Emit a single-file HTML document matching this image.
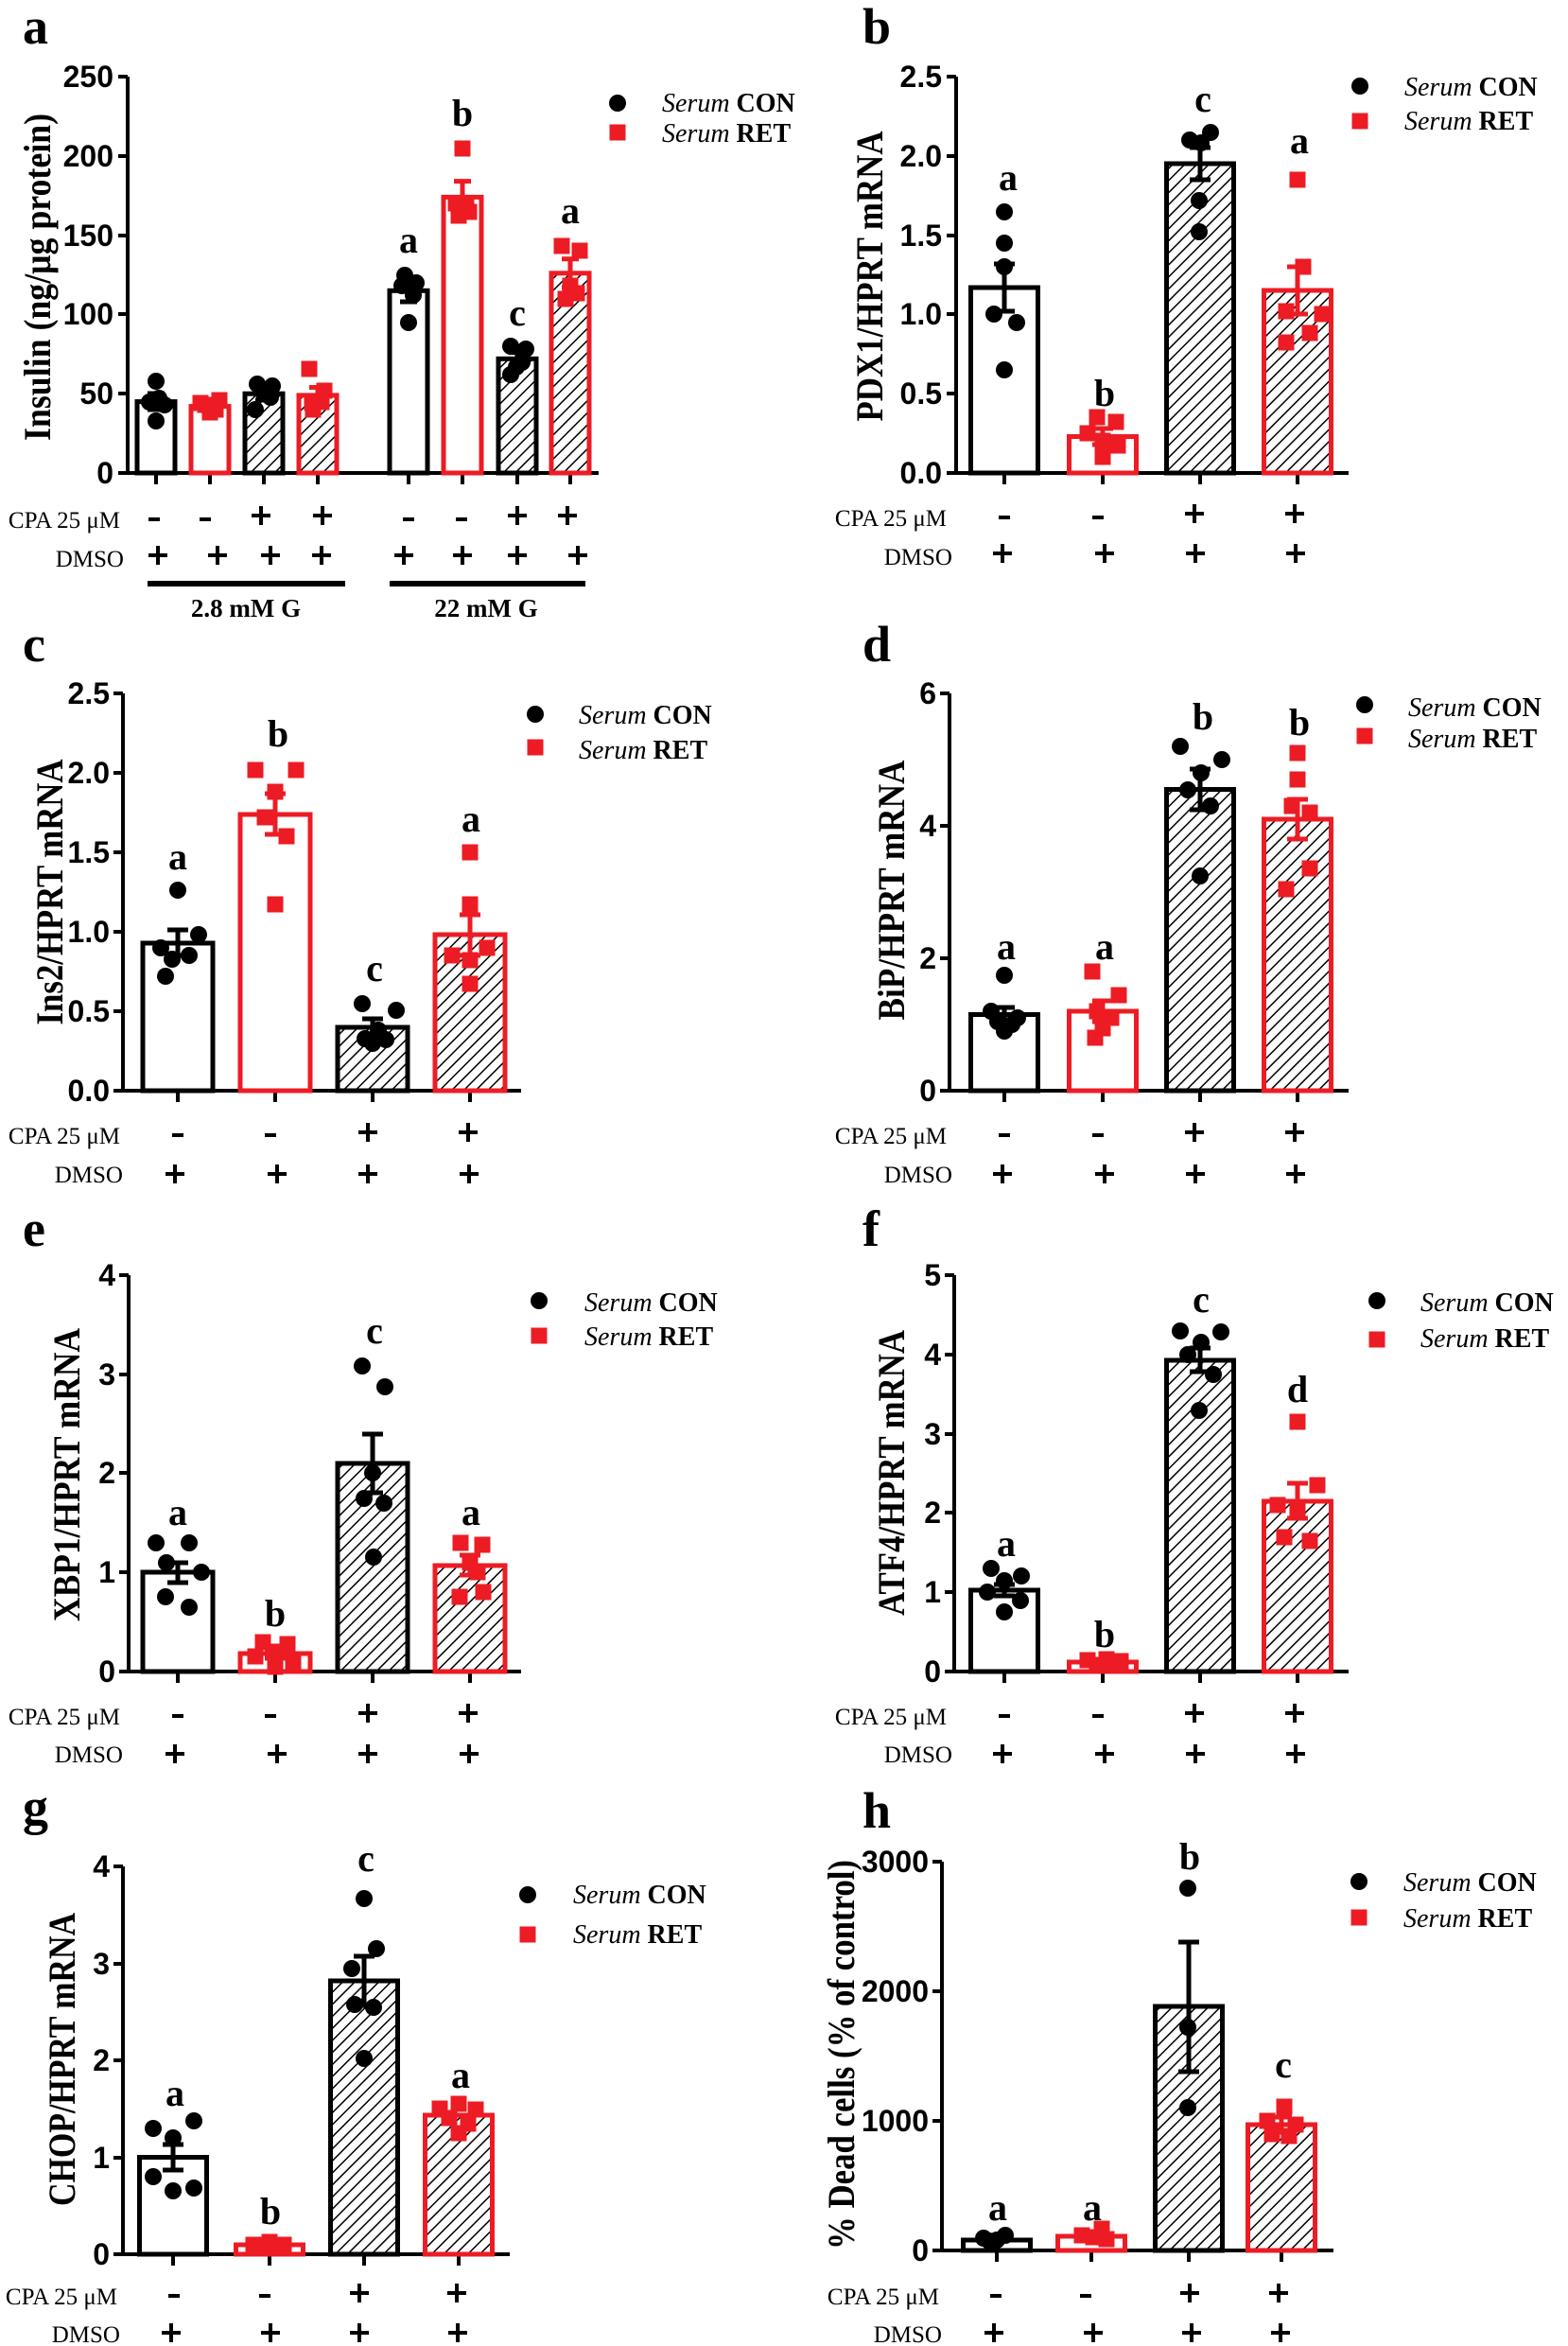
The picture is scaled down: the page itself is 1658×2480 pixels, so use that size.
<!DOCTYPE html>
<html><head><meta charset="utf-8"><style>
html,body{margin:0;padding:0;background:#fff}
svg{display:block}
.tk{font-family:"Liberation Sans Narrow","Liberation Sans",sans-serif;font-weight:bold;font-size:32px;text-anchor:end}
.yt{font-family:"Liberation Serif",serif;font-weight:bold;font-size:40px;text-anchor:middle}
.pl{font-family:"Liberation Serif",serif;font-weight:bold;font-size:54px}
.lt{font-family:"Liberation Serif",serif;font-weight:bold;font-size:40px;text-anchor:middle}
.lg{font-family:"Liberation Serif",serif;font-size:28px}
.rl{font-family:"Liberation Serif",serif;font-size:25px;text-anchor:end}
.ax{stroke:#000;stroke-width:4;fill:none}
.bk{stroke:#000;stroke-width:5}
.rd{stroke:#ed1c24;stroke-width:5}
.sg{stroke:#000;stroke-width:4}
</style></head><body>
<svg width="1658" height="2480" viewBox="0 0 1658 2480" xmlns="http://www.w3.org/2000/svg">
<defs>
<pattern id="h" patternUnits="userSpaceOnUse" width="9" height="9" patternTransform="rotate(45)">
<rect width="9" height="9" fill="#fff"/><line x1="0" y1="0" x2="0" y2="9" stroke="#000" stroke-width="3"/>
</pattern>
<circle id="c" r="9" fill="#000"/>
<rect id="s" x="-8.5" y="-8.5" width="17" height="17" fill="#ed1c24"/>
<path id="p" d="M-10 0H10M0 -10V10" class="sg"/>
<path id="m" d="M-6 0H6" class="sg"/>
</defs>

<!-- ===== Panel a ===== -->
<text class="pl" x="24" y="46">a</text>
<path class="ax" d="M135 81V500H633 M125 81H135 M125 165H135 M125 249H135 M125 332H135 M125 416H135 M125 500H135"/>
<path class="ax" d="M165 500V512 M222 500V512 M279 500V512 M336 500V512 M432 500V512 M489 500V512 M547 500V512 M603 500V512"/>
<text class="tk" x="120" y="92">250</text><text class="tk" x="120" y="176">200</text><text class="tk" x="120" y="260">150</text><text class="tk" x="120" y="343">100</text><text class="tk" x="120" y="427">50</text><text class="tk" x="120" y="511">0</text>
<text class="yt" transform="translate(40,293) rotate(-90)" y="13" textLength="346" lengthAdjust="spacingAndGlyphs">Insulin (ng/μg protein)</text>
<rect class="bk" x="145" y="424.6" width="40" height="75.4" fill="#fff"/>
<rect class="rd" x="202" y="429.6" width="40" height="70.4" fill="#fff"/>
<rect class="bk" x="259" y="416.2" width="40" height="83.8" fill="url(#h)"/>
<rect class="rd" x="316" y="417.9" width="40" height="82.1" fill="url(#h)"/>
<rect class="bk" x="412" y="307.3" width="40" height="192.7" fill="#fff"/>
<rect class="rd" x="469" y="208.4" width="40" height="291.6" fill="#fff"/>
<rect class="bk" x="527" y="379.3" width="40" height="120.7" fill="url(#h)"/>
<rect class="rd" x="583" y="288.8" width="40" height="211.2" fill="url(#h)"/>
<path class="bk" d="M165 416V433M156 416H174M156 433H174 M279 409.5V423M270 409.5H288M270 423H288 M432 295.6V319M423 295.6H441M423 319H441 M547 372.6V386M538 372.6H556M538 386H556"/>
<path class="rd" d="M222 424.6V434.6M213 424.6H231M213 434.6H231 M336 409.5V426.3M327 409.5H345M327 426.3H345 M489 191.6V225M480 191.6H498M480 225H498 M603 273.7V304M594 273.7H612M594 304H612"/>
<use href="#c" x="165" y="403"/><use href="#c" x="165" y="445"/><use href="#c" x="158" y="425"/><use href="#c" x="174" y="428"/><use href="#c" x="168" y="421"/>
<use href="#s" x="212" y="426"/><use href="#s" x="222" y="436"/><use href="#s" x="232" y="423"/><use href="#s" x="228" y="433"/><use href="#s" x="217" y="428"/>
<use href="#c" x="272" y="406"/><use href="#c" x="288" y="408"/><use href="#c" x="270" y="433"/><use href="#c" x="279" y="416"/><use href="#c" x="286" y="420"/>
<use href="#s" x="327" y="390"/><use href="#s" x="343" y="413"/><use href="#s" x="331" y="433"/><use href="#s" x="340" y="425"/><use href="#s" x="330" y="426"/>
<use href="#c" x="428" y="291"/><use href="#c" x="440" y="299"/><use href="#c" x="432" y="341"/><use href="#c" x="425" y="302"/><use href="#c" x="437" y="312"/>
<use href="#s" x="489" y="157"/><use href="#s" x="482" y="215"/><use href="#s" x="496" y="224"/><use href="#s" x="493" y="218"/><use href="#s" x="485" y="228"/>
<use href="#c" x="540" y="366"/><use href="#c" x="556" y="369"/><use href="#c" x="540" y="396"/><use href="#c" x="552" y="383"/><use href="#c" x="546" y="388"/>
<use href="#s" x="594" y="260"/><use href="#s" x="613" y="265"/><use href="#s" x="598" y="316"/><use href="#s" x="610" y="310"/><use href="#s" x="603" y="302"/>
<text class="lt" x="432" y="267">a</text><text class="lt" x="489" y="133">b</text><text class="lt" x="547" y="344">c</text><text class="lt" x="603" y="236">a</text>
<use href="#c" x="653" y="109"/><use href="#s" x="653" y="140"/>
<text class="lg" x="700" y="118"><tspan font-style="italic">Serum</tspan> <tspan font-weight="bold">CON</tspan></text>
<text class="lg" x="700" y="150"><tspan font-style="italic">Serum</tspan> <tspan font-weight="bold">RET</tspan></text>
<text class="rl" x="127" y="558">CPA 25 μM</text><text class="rl" x="131" y="599">DMSO</text>
<use href="#m" x="163" y="549"/><use href="#m" x="217" y="549"/><use href="#p" x="276" y="545"/><use href="#p" x="341" y="545"/><use href="#m" x="432" y="549"/><use href="#m" x="488" y="549"/><use href="#p" x="547" y="545"/><use href="#p" x="600" y="545"/>
<use href="#p" x="167" y="587"/><use href="#p" x="230" y="587"/><use href="#p" x="286" y="587"/><use href="#p" x="340" y="587"/><use href="#p" x="427" y="587"/><use href="#p" x="489" y="587"/><use href="#p" x="547" y="587"/><use href="#p" x="611" y="587"/>
<rect x="156" y="614" width="209" height="6" fill="#000"/><rect x="412" y="614" width="207" height="6" fill="#000"/>
<text class="lt" style="font-size:27px" x="260" y="652">2.8 mM G</text><text class="lt" style="font-size:27px" x="514" y="652">22 mM G</text>

<!-- ===== Panel b ===== -->
<text class="pl" x="912" y="46">b</text>
<path class="ax" d="M1011 81V500H1426 M1001 81H1011 M1001 165H1011 M1001 249H1011 M1001 332H1011 M1001 416H1011 M1001 500H1011 M1062 500V512 M1166 500V512 M1269 500V512 M1372 500V512"/>
<text class="tk" x="996" y="92">2.5</text><text class="tk" x="996" y="176">2.0</text><text class="tk" x="996" y="260">1.5</text><text class="tk" x="996" y="343">1.0</text><text class="tk" x="996" y="427">0.5</text><text class="tk" x="996" y="511">0.0</text>
<text class="yt" transform="translate(920,292) rotate(-90)" y="13" textLength="307" lengthAdjust="spacingAndGlyphs">PDX1/HPRT mRNA</text>
<rect class="bk" x="1026.5" y="304" width="71" height="196" fill="#fff"/>
<rect class="rd" x="1130.5" y="461.5" width="71" height="38.5" fill="#fff"/>
<rect class="bk" x="1233.5" y="173" width="71" height="327" fill="url(#h)"/>
<rect class="rd" x="1336.5" y="307" width="71" height="193" fill="url(#h)"/>
<path class="bk" d="M1062 279V329M1051 279H1073M1051 329H1073 M1269 156V190M1258 156H1280M1258 190H1280"/>
<path class="rd" d="M1166 453V470M1155 453H1177M1155 470H1177 M1372 282V332M1361 282H1383M1361 332H1383"/>
<use href="#c" x="1062" y="224"/><use href="#c" x="1062" y="257"/><use href="#c" x="1062" y="282"/><use href="#c" x="1051" y="332"/><use href="#c" x="1075" y="341"/><use href="#c" x="1062" y="391"/>
<use href="#s" x="1160" y="441"/><use href="#s" x="1180" y="446"/><use href="#s" x="1150" y="458"/><use href="#s" x="1166" y="466"/><use href="#s" x="1182" y="471"/><use href="#s" x="1166" y="483"/>
<use href="#c" x="1280" y="140"/><use href="#c" x="1258" y="148"/><use href="#c" x="1270" y="151"/><use href="#c" x="1268" y="212"/><use href="#c" x="1268" y="245"/>
<use href="#s" x="1372" y="190"/><use href="#s" x="1378" y="282"/><use href="#s" x="1360" y="329"/><use href="#s" x="1398" y="332"/><use href="#s" x="1385" y="352"/><use href="#s" x="1360" y="362"/>
<text class="lt" x="1066" y="201">a</text><text class="lt" x="1168" y="429">b</text><text class="lt" x="1272" y="118">c</text><text class="lt" x="1374" y="162">a</text>
<use href="#c" x="1438" y="91"/><use href="#s" x="1438" y="128"/>
<text class="lg" x="1485" y="101"><tspan font-style="italic">Serum</tspan> <tspan font-weight="bold">CON</tspan></text>
<text class="lg" x="1485" y="137"><tspan font-style="italic">Serum</tspan> <tspan font-weight="bold">RET</tspan></text>
<text class="rl" x="1001" y="556">CPA 25 μM</text><text class="rl" x="1007" y="597">DMSO</text>
<use href="#m" x="1062" y="547"/><use href="#m" x="1161" y="547"/><use href="#p" x="1263" y="543"/><use href="#p" x="1369" y="543"/>
<use href="#p" x="1060" y="585"/><use href="#p" x="1168" y="585"/><use href="#p" x="1264" y="585"/><use href="#p" x="1370" y="585"/>

<!-- ===== Panel c ===== -->
<text class="pl" x="24" y="699">c</text>
<path class="ax" d="M130 733V1153H551 M120 733H130 M120 817H130 M120 901H130 M120 985H130 M120 1069H130 M120 1153H130 M188 1153V1165 M291 1153V1165 M394 1153V1165 M497 1153V1165"/>
<text class="tk" x="116" y="744">2.5</text><text class="tk" x="116" y="828">2.0</text><text class="tk" x="116" y="912">1.5</text><text class="tk" x="116" y="996">1.0</text><text class="tk" x="116" y="1080">0.5</text><text class="tk" x="116" y="1164">0.0</text>
<text class="yt" transform="translate(53,943) rotate(-90)" y="13" textLength="281" lengthAdjust="spacingAndGlyphs">Ins2/HPRT mRNA</text>
<rect class="bk" x="151" y="997" width="74" height="156" fill="#fff"/>
<rect class="rd" x="254" y="861" width="74" height="292" fill="#fff"/>
<rect class="bk" x="357" y="1086" width="74" height="67" fill="url(#h)"/>
<rect class="rd" x="460" y="988" width="74" height="165" fill="url(#h)"/>
<path class="bk" d="M188 983V1010M177 983H199M177 1010H199 M394 1077V1094M383 1077H405M383 1094H405"/>
<path class="rd" d="M291 839V882M280 839H302M280 882H302 M497 967V1010M486 967H508M486 1010H508"/>
<use href="#c" x="188" y="941"/><use href="#c" x="210" y="988"/><use href="#c" x="170" y="1002"/><use href="#c" x="200" y="1010"/><use href="#c" x="182" y="1014"/><use href="#c" x="175" y="1032"/>
<use href="#s" x="270" y="814"/><use href="#s" x="313" y="814"/><use href="#s" x="291" y="837"/><use href="#s" x="280" y="864"/><use href="#s" x="303" y="884"/><use href="#s" x="291" y="956"/>
<use href="#c" x="383" y="1061"/><use href="#c" x="419" y="1068"/><use href="#c" x="400" y="1089"/><use href="#c" x="386" y="1098"/><use href="#c" x="408" y="1099"/><use href="#c" x="394" y="1103"/>
<use href="#s" x="497" y="901"/><use href="#s" x="497" y="956"/><use href="#s" x="515" y="1002"/><use href="#s" x="478" y="1010"/><use href="#s" x="497" y="1015"/><use href="#s" x="497" y="1040"/>
<text class="lt" x="188" y="919">a</text><text class="lt" x="294" y="789">b</text><text class="lt" x="396" y="1037">c</text><text class="lt" x="498" y="879">a</text>
<use href="#c" x="566" y="755"/><use href="#s" x="566" y="790"/>
<text class="lg" x="612" y="765"><tspan font-style="italic">Serum</tspan> <tspan font-weight="bold">CON</tspan></text>
<text class="lg" x="612" y="802"><tspan font-style="italic">Serum</tspan> <tspan font-weight="bold">RET</tspan></text>
<text class="rl" x="127" y="1209">CPA 25 μM</text><text class="rl" x="130" y="1250">DMSO</text>
<use href="#m" x="188" y="1200"/><use href="#m" x="286" y="1200"/><use href="#p" x="389" y="1197"/><use href="#p" x="495" y="1197"/>
<use href="#p" x="185" y="1241"/><use href="#p" x="293" y="1241"/><use href="#p" x="389" y="1241"/><use href="#p" x="496" y="1241"/>

<!-- ===== Panel d ===== -->
<text class="pl" x="912" y="699">d</text>
<path class="ax" d="M1004 733V1153H1426 M994 733H1004 M994 873H1004 M994 1013H1004 M994 1153H1004 M1062 1153V1165 M1166 1153V1165 M1269 1153V1165 M1372 1153V1165"/>
<text class="tk" x="990" y="744">6</text><text class="tk" x="990" y="884">4</text><text class="tk" x="990" y="1024">2</text><text class="tk" x="990" y="1164">0</text>
<text class="yt" transform="translate(943,941) rotate(-90)" y="13" textLength="275" lengthAdjust="spacingAndGlyphs">BiP/HPRT mRNA</text>
<rect class="bk" x="1026.5" y="1072.5" width="71" height="80.5" fill="#fff"/>
<rect class="rd" x="1130.5" y="1069" width="71" height="84" fill="#fff"/>
<rect class="bk" x="1233.5" y="834.5" width="71" height="318.5" fill="url(#h)"/>
<rect class="rd" x="1336.5" y="866" width="71" height="287" fill="url(#h)"/>
<path class="bk" d="M1062 1065V1080M1051 1065H1073M1051 1080H1073 M1269 813V856M1258 813H1280M1258 856H1280"/>
<path class="rd" d="M1166 1058V1080M1155 1058H1177M1155 1080H1177 M1372 845V887M1361 845H1383M1361 887H1383"/>
<use href="#c" x="1062" y="1031"/><use href="#c" x="1048" y="1069"/><use href="#c" x="1076" y="1076"/><use href="#c" x="1055" y="1080"/><use href="#c" x="1070" y="1083"/><use href="#c" x="1062" y="1090"/>
<use href="#s" x="1155" y="1027"/><use href="#s" x="1183" y="1052"/><use href="#s" x="1160" y="1069"/><use href="#s" x="1175" y="1076"/><use href="#s" x="1166" y="1087"/><use href="#s" x="1158" y="1097"/>
<use href="#c" x="1248" y="789"/><use href="#c" x="1292" y="803"/><use href="#c" x="1270" y="817"/><use href="#c" x="1256" y="835"/><use href="#c" x="1280" y="852"/><use href="#c" x="1269" y="926"/>
<use href="#s" x="1372" y="796"/><use href="#s" x="1372" y="824"/><use href="#s" x="1366" y="852"/><use href="#s" x="1385" y="859"/><use href="#s" x="1385" y="918"/><use href="#s" x="1360" y="940"/>
<text class="lt" x="1064" y="1014">a</text><text class="lt" x="1168" y="1014">a</text><text class="lt" x="1272" y="771">b</text><text class="lt" x="1374" y="777">b</text>
<use href="#c" x="1443" y="745"/><use href="#s" x="1443" y="778"/>
<text class="lg" x="1489" y="757"><tspan font-style="italic">Serum</tspan> <tspan font-weight="bold">CON</tspan></text>
<text class="lg" x="1489" y="790"><tspan font-style="italic">Serum</tspan> <tspan font-weight="bold">RET</tspan></text>
<text class="rl" x="1001" y="1209">CPA 25 μM</text><text class="rl" x="1007" y="1250">DMSO</text>
<use href="#m" x="1062" y="1200"/><use href="#m" x="1161" y="1200"/><use href="#p" x="1263" y="1197"/><use href="#p" x="1369" y="1197"/>
<use href="#p" x="1060" y="1241"/><use href="#p" x="1168" y="1241"/><use href="#p" x="1264" y="1241"/><use href="#p" x="1370" y="1241"/>

<!-- ===== Panel e ===== -->
<text class="pl" x="24" y="1317">e</text>
<path class="ax" d="M136 1348V1767H551 M126 1348H136 M126 1453H136 M126 1557H136 M126 1662H136 M126 1767H136 M188 1767V1779 M291 1767V1779 M394 1767V1779 M497 1767V1779"/>
<text class="tk" x="122" y="1359">4</text><text class="tk" x="122" y="1464">3</text><text class="tk" x="122" y="1568">2</text><text class="tk" x="122" y="1673">1</text><text class="tk" x="122" y="1778">0</text>
<text class="yt" transform="translate(71,1559) rotate(-90)" y="13" textLength="310" lengthAdjust="spacingAndGlyphs">XBP1/HPRT mRNA</text>
<rect class="bk" x="151" y="1662" width="74" height="105" fill="#fff"/>
<rect class="rd" x="254" y="1748" width="74" height="19" fill="#fff"/>
<rect class="bk" x="357" y="1547" width="74" height="220" fill="url(#h)"/>
<rect class="rd" x="460" y="1655" width="74" height="112" fill="url(#h)"/>
<path class="bk" d="M188 1652V1673M177 1652H199M177 1673H199 M394 1516V1578M383 1516H405M383 1578H405"/>
<path class="rd" d="M291 1743V1753M280 1743H302M280 1753H302 M497 1644V1665M486 1644H508M486 1665H508"/>
<use href="#c" x="165" y="1631"/><use href="#c" x="200" y="1631"/><use href="#c" x="176" y="1652"/><use href="#c" x="213" y="1662"/><use href="#c" x="175" y="1688"/><use href="#c" x="200" y="1699"/>
<use href="#s" x="278" y="1736"/><use href="#s" x="304" y="1738"/><use href="#s" x="291" y="1746"/><use href="#s" x="270" y="1751"/><use href="#s" x="310" y="1756"/><use href="#s" x="291" y="1762"/>
<use href="#c" x="383" y="1444"/><use href="#c" x="407" y="1466"/><use href="#c" x="394" y="1557"/><use href="#c" x="385" y="1584"/><use href="#c" x="406" y="1589"/><use href="#c" x="395" y="1646"/>
<use href="#s" x="487" y="1631"/><use href="#s" x="510" y="1633"/><use href="#s" x="497" y="1652"/><use href="#s" x="505" y="1662"/><use href="#s" x="511" y="1683"/><use href="#s" x="486" y="1688"/>
<text class="lt" x="188" y="1612">a</text><text class="lt" x="291" y="1719">b</text><text class="lt" x="396" y="1420">c</text><text class="lt" x="498" y="1612">a</text>
<use href="#c" x="570" y="1375"/><use href="#s" x="570" y="1412"/>
<text class="lg" x="618" y="1386"><tspan font-style="italic">Serum</tspan> <tspan font-weight="bold">CON</tspan></text>
<text class="lg" x="618" y="1422"><tspan font-style="italic">Serum</tspan> <tspan font-weight="bold">RET</tspan></text>
<text class="rl" x="127" y="1823">CPA 25 μM</text><text class="rl" x="130" y="1863">DMSO</text>
<use href="#m" x="188" y="1814"/><use href="#m" x="286" y="1814"/><use href="#p" x="389" y="1811"/><use href="#p" x="495" y="1811"/>
<use href="#p" x="185" y="1854"/><use href="#p" x="293" y="1854"/><use href="#p" x="389" y="1854"/><use href="#p" x="496" y="1854"/>

<!-- ===== Panel f ===== -->
<text class="pl" x="912" y="1317">f</text>
<path class="ax" d="M1009 1348V1767H1426 M999 1348H1009 M999 1432H1009 M999 1516H1009 M999 1599H1009 M999 1683H1009 M999 1767H1009 M1062 1767V1779 M1166 1767V1779 M1269 1767V1779 M1372 1767V1779"/>
<text class="tk" x="995" y="1359">5</text><text class="tk" x="995" y="1443">4</text><text class="tk" x="995" y="1527">3</text><text class="tk" x="995" y="1610">2</text><text class="tk" x="995" y="1694">1</text><text class="tk" x="995" y="1778">0</text>
<text class="yt" transform="translate(943,1557) rotate(-90)" y="13" textLength="302" lengthAdjust="spacingAndGlyphs">ATF4/HPRT mRNA</text>
<rect class="bk" x="1026.5" y="1681" width="71" height="86" fill="#fff"/>
<rect class="rd" x="1130.5" y="1757" width="71" height="10" fill="#fff"/>
<rect class="bk" x="1233.5" y="1438" width="71" height="329" fill="url(#h)"/>
<rect class="rd" x="1336.5" y="1587" width="71" height="180" fill="url(#h)"/>
<path class="bk" d="M1062 1675V1687M1051 1675H1073M1051 1687H1073 M1269 1425V1450M1258 1425H1280M1258 1450H1280"/>
<path class="rd" d="M1372 1568V1605M1361 1568H1383M1361 1605H1383"/>
<use href="#c" x="1048" y="1658"/><use href="#c" x="1080" y="1666"/><use href="#c" x="1062" y="1671"/><use href="#c" x="1044" y="1683"/><use href="#c" x="1079" y="1692"/><use href="#c" x="1062" y="1704"/>
<use href="#s" x="1150" y="1755"/><use href="#s" x="1170" y="1754"/><use href="#s" x="1185" y="1756"/><use href="#s" x="1160" y="1760"/><use href="#s" x="1176" y="1760"/>
<use href="#c" x="1248" y="1407"/><use href="#c" x="1291" y="1408"/><use href="#c" x="1270" y="1419"/><use href="#c" x="1256" y="1432"/><use href="#c" x="1283" y="1453"/><use href="#c" x="1268" y="1491"/>
<use href="#s" x="1372" y="1503"/><use href="#s" x="1393" y="1570"/><use href="#s" x="1351" y="1591"/><use href="#s" x="1372" y="1595"/><use href="#s" x="1358" y="1625"/><use href="#s" x="1385" y="1629"/>
<text class="lt" x="1064" y="1645">a</text><text class="lt" x="1168" y="1741">b</text><text class="lt" x="1270" y="1387">c</text><text class="lt" x="1372" y="1482">d</text>
<use href="#c" x="1456" y="1375"/><use href="#s" x="1456" y="1416"/>
<text class="lg" x="1502" y="1386"><tspan font-style="italic">Serum</tspan> <tspan font-weight="bold">CON</tspan></text>
<text class="lg" x="1502" y="1424"><tspan font-style="italic">Serum</tspan> <tspan font-weight="bold">RET</tspan></text>
<text class="rl" x="1001" y="1823">CPA 25 μM</text><text class="rl" x="1007" y="1863">DMSO</text>
<use href="#m" x="1062" y="1814"/><use href="#m" x="1161" y="1814"/><use href="#p" x="1263" y="1811"/><use href="#p" x="1369" y="1811"/>
<use href="#p" x="1060" y="1854"/><use href="#p" x="1168" y="1854"/><use href="#p" x="1264" y="1854"/><use href="#p" x="1370" y="1854"/>

<!-- ===== Panel g ===== -->
<text class="pl" x="24" y="1928">g</text>
<path class="ax" d="M130 1973V2383H539 M120 1973H130 M120 2076H130 M120 2178H130 M120 2281H130 M120 2383H130 M183 2383V2395 M285 2383V2395 M385 2383V2395 M485 2383V2395"/>
<text class="tk" x="116" y="1984">4</text><text class="tk" x="116" y="2087">3</text><text class="tk" x="116" y="2189">2</text><text class="tk" x="116" y="2292">1</text><text class="tk" x="116" y="2394">0</text>
<text class="yt" transform="translate(66,2177) rotate(-90)" y="13" textLength="310" lengthAdjust="spacingAndGlyphs">CHOP/HPRT mRNA</text>
<rect class="bk" x="147.5" y="2280.5" width="71" height="102.5" fill="#fff"/>
<rect class="rd" x="249.5" y="2373" width="71" height="10" fill="#fff"/>
<rect class="bk" x="349.5" y="2094" width="71" height="289" fill="url(#h)"/>
<rect class="rd" x="449.5" y="2236" width="71" height="147" fill="url(#h)"/>
<path class="bk" d="M183 2267V2294M172 2267H194M172 2294H194 M385 2068V2120M374 2068H396M374 2120H396"/>
<use href="#c" x="205" y="2242"/><use href="#c" x="162" y="2250"/><use href="#c" x="183" y="2260"/><use href="#c" x="162" y="2301"/><use href="#c" x="205" y="2313"/><use href="#c" x="183" y="2316"/>
<use href="#s" x="268" y="2373"/><use href="#s" x="285" y="2370"/><use href="#s" x="300" y="2373"/><use href="#s" x="276" y="2376"/><use href="#s" x="293" y="2376"/>
<use href="#c" x="385" y="2007"/><use href="#c" x="398" y="2060"/><use href="#c" x="372" y="2081"/><use href="#c" x="375" y="2119"/><use href="#c" x="395" y="2122"/><use href="#c" x="385" y="2176"/>
<use href="#s" x="485" y="2224"/><use href="#s" x="465" y="2229"/><use href="#s" x="503" y="2230"/><use href="#s" x="475" y="2239"/><use href="#s" x="495" y="2245"/><use href="#s" x="485" y="2255"/>
<text class="lt" x="185" y="2226">a</text><text class="lt" x="286" y="2351">b</text><text class="lt" x="387" y="1978">c</text><text class="lt" x="487" y="2207">a</text>
<use href="#c" x="558" y="2003"/><use href="#s" x="558" y="2045"/>
<text class="lg" x="606" y="2012"><tspan font-style="italic">Serum</tspan> <tspan font-weight="bold">CON</tspan></text>
<text class="lg" x="606" y="2054"><tspan font-style="italic">Serum</tspan> <tspan font-weight="bold">RET</tspan></text>
<text class="rl" x="124" y="2436">CPA 25 μM</text><text class="rl" x="127" y="2476">DMSO</text>
<use href="#m" x="184" y="2427"/><use href="#m" x="280" y="2427"/><use href="#p" x="380" y="2424"/><use href="#p" x="483" y="2424"/>
<use href="#p" x="181" y="2466"/><use href="#p" x="286" y="2466"/><use href="#p" x="380" y="2466"/><use href="#p" x="484" y="2466"/>

<!-- ===== Panel h ===== -->
<text class="pl" x="912" y="1932">h</text>
<path class="ax" d="M996 1968V2379H1410 M986 1968H996 M986 2105H996 M986 2242H996 M986 2379H996 M1054 2379V2391 M1154 2379V2391 M1257 2379V2391 M1355 2379V2391"/>
<text class="tk" x="982" y="1979">3000</text><text class="tk" x="982" y="2116">2000</text><text class="tk" x="982" y="2253">1000</text><text class="tk" x="982" y="2390">0</text>
<text class="yt" transform="translate(890,2172) rotate(-90)" y="13" textLength="412" lengthAdjust="spacingAndGlyphs">% Dead cells (% of control)</text>
<rect class="bk" x="1018.5" y="2368" width="71" height="11" fill="#fff"/>
<rect class="rd" x="1118.5" y="2364" width="71" height="15" fill="#fff"/>
<rect class="bk" x="1221.5" y="2121" width="71" height="258" fill="url(#h)"/>
<rect class="rd" x="1319.5" y="2246" width="71" height="133" fill="url(#h)"/>
<path class="bk" d="M1257 2053V2190M1246 2053H1268M1246 2190H1268"/>
<path class="rd" d="M1355 2238V2254M1344 2238H1366M1344 2254H1366"/>
<use href="#c" x="1063" y="2363"/><use href="#c" x="1040" y="2366"/><use href="#c" x="1054" y="2368"/><use href="#c" x="1046" y="2369"/>
<use href="#s" x="1165" y="2356"/><use href="#s" x="1144" y="2363"/><use href="#s" x="1156" y="2365"/><use href="#s" x="1170" y="2367"/>
<use href="#c" x="1256" y="1996"/><use href="#c" x="1256" y="2143"/><use href="#c" x="1256" y="2228"/>
<use href="#s" x="1358" y="2227"/><use href="#s" x="1340" y="2242"/><use href="#s" x="1370" y="2246"/><use href="#s" x="1345" y="2256"/><use href="#s" x="1363" y="2258"/>
<text class="lt" x="1055" y="2347">a</text><text class="lt" x="1155" y="2347">a</text><text class="lt" x="1258" y="1976">b</text><text class="lt" x="1357" y="2196">c</text>
<use href="#c" x="1437" y="1989"/><use href="#s" x="1437" y="2027"/>
<text class="lg" x="1484" y="1999"><tspan font-style="italic">Serum</tspan> <tspan font-weight="bold">CON</tspan></text>
<text class="lg" x="1484" y="2037"><tspan font-style="italic">Serum</tspan> <tspan font-weight="bold">RET</tspan></text>
<text class="rl" x="993" y="2436">CPA 25 μM</text><text class="rl" x="996" y="2476">DMSO</text>
<use href="#m" x="1053" y="2427"/><use href="#m" x="1148" y="2427"/><use href="#p" x="1258" y="2424"/><use href="#p" x="1352" y="2424"/>
<use href="#p" x="1051" y="2466"/><use href="#p" x="1156" y="2466"/><use href="#p" x="1260" y="2466"/><use href="#p" x="1354" y="2466"/>
</svg>
</body></html>
